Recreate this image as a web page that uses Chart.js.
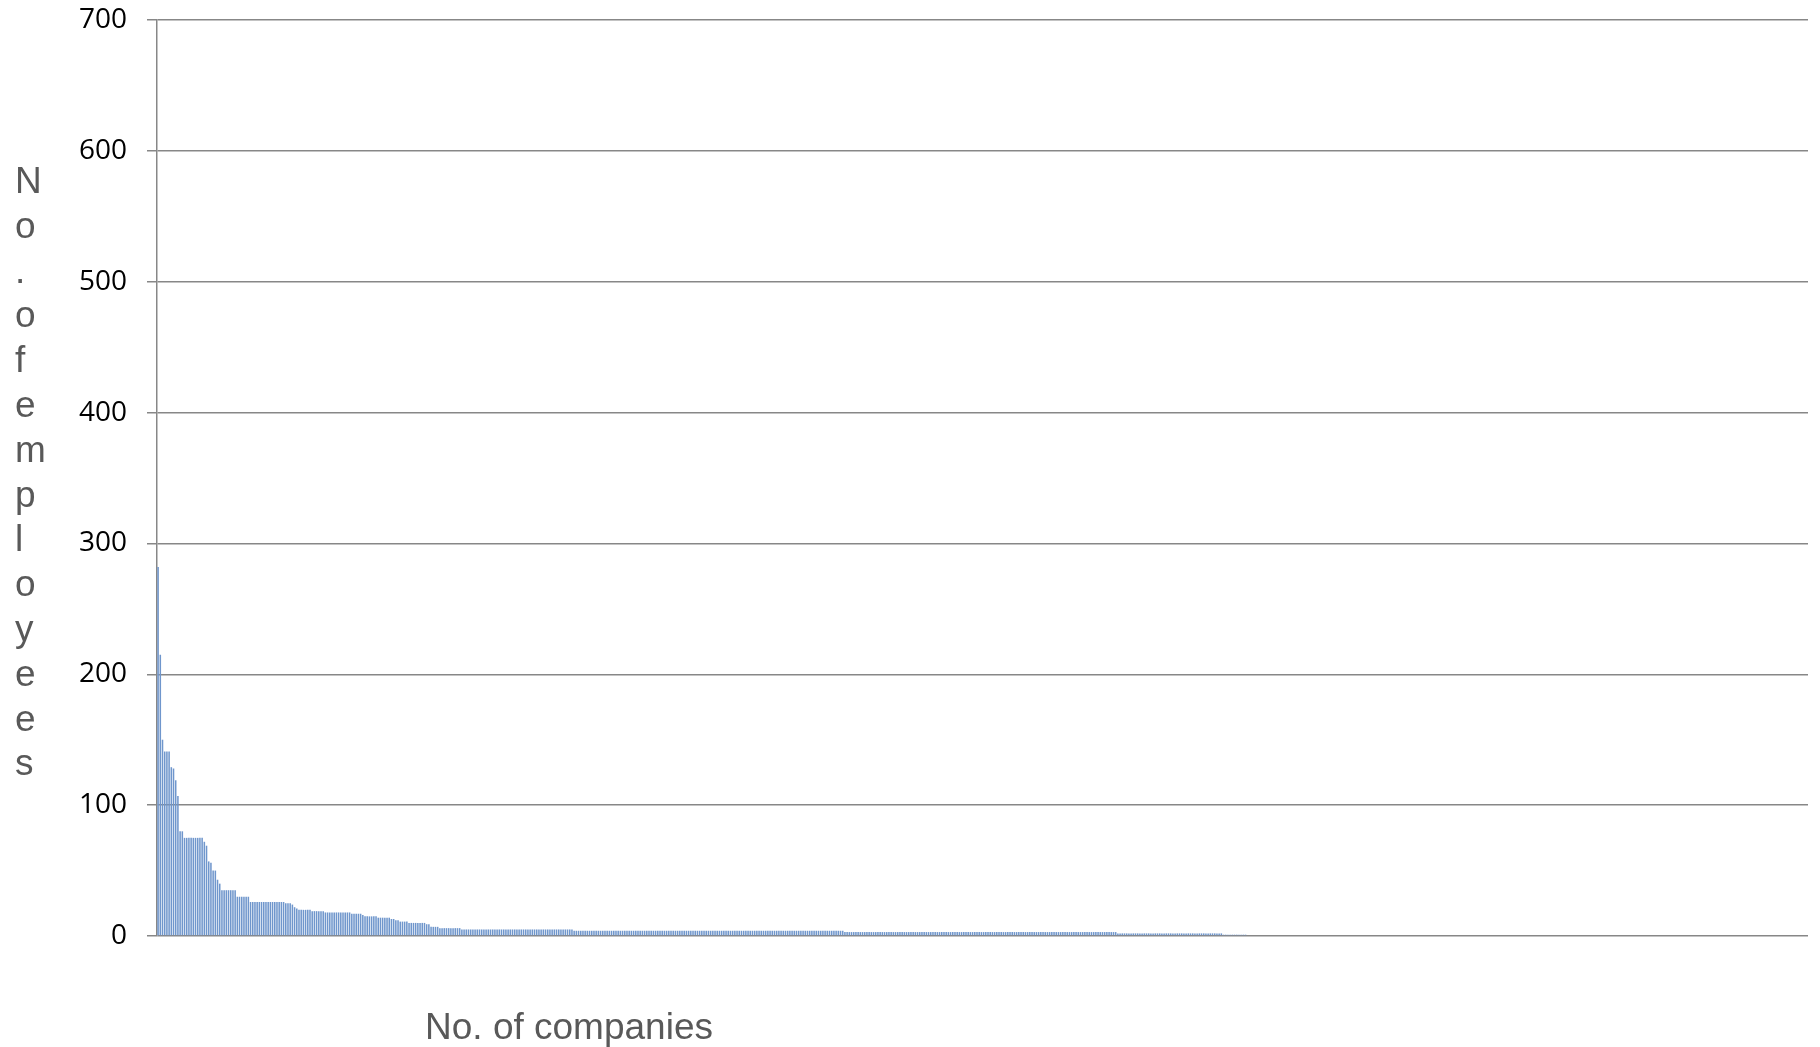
<!DOCTYPE html>
<html>
<head>
<meta charset="utf-8">
<script src="https://cdn.jsdelivr.net/npm/chart.js@4.4.1/dist/chart.umd.min.js"></script>
<style>
html,body{margin:0;padding:0;background:#fff;}
#wrap{width:1820px;height:1047px;}
</style>
</head>
<body>
<div id="wrap"><canvas id="c" width="1820" height="1047"></canvas></div>
<script>
// Number of employees per company, sorted descending
const employees = [
282,215,150,141,141,141,129,128,119,107,
80,80,
75,75,75,75,75,75,75,75,75,
72,69,57,56,50,50,43,40,
35,35,35,35,35,35,35,
30,30,30,30,30,30,
26,26,26,26,26,26,26,26,26,26,26,26,26,26,26,26,
25,25,25,24,22,21,
20,20,20,20,20,20,
19,19,19,19,19,19,
18,18,18,18,18,18,18,18,18,18,18,18,
17,17,17,17,17,16,
15,15,15,15,15,15,
14,14,14,14,14,14,
13,13,12,12,
11,11,11,11,
10,10,10,10,10,10,10,10,
9,9,7,7,7,7,
6,6,6,6,6,6,6,6,6,6,
5,5,5,5,5,5,5,5,5,5,
5,5,5,5,5,5,5,5,5,5,
5,5,5,5,5,5,5,5,5,5,
5,5,5,5,5,5,5,5,5,5,
5,5,5,5,5,5,5,5,5,5,
5,
4,4,4,4,4,4,4,4,4,4,
4,4,4,4,4,4,4,4,4,4,
4,4,4,4,4,4,4,4,4,4,
4,4,4,4,4,4,4,4,4,4,
4,4,4,4,4,4,4,4,4,4,
4,4,4,4,4,4,4,4,4,4,
4,4,4,4,4,4,4,4,4,4,
4,4,4,4,4,4,4,4,4,4,
4,4,4,4,4,4,4,4,4,4,
4,4,4,4,4,4,4,4,4,4,
4,4,4,4,4,4,4,4,4,4,
4,4,4,4,4,4,4,4,4,4,
4,4,4,
3,3,3,3,3,3,3,3,3,3,
3,3,3,3,3,3,3,3,3,3,
3,3,3,3,3,3,3,3,3,3,
3,3,3,3,3,3,3,3,3,3,
3,3,3,3,3,3,3,3,3,3,
3,3,3,3,3,3,3,3,3,3,
3,3,3,3,3,3,3,3,3,3,
3,3,3,3,3,3,3,3,3,3,
3,3,3,3,3,3,3,3,3,3,
3,3,3,3,3,3,3,3,3,3,
3,3,3,3,3,3,3,3,3,3,
3,3,3,3,3,3,3,3,3,3,
3,3,3,3,
2,2,2,2,2,2,2,2,2,2,
2,2,2,2,2,2,2,2,2,2,
2,2,2,2,2,2,2,2,2,2,
2,2,2,2,2,2,2,2,2,2,
2,2,2,2,2,2,2,2,
1,1,1,1,1,1,1,1,1,1,1
];
// Total number of company slots on the category axis (remaining slots are empty)
const companyCount = 750;
const companies = Array.from({length: companyCount}, (_, i) => String(i + 1));
const yTicks = [0, 100, 200, 300, 400, 500, 600, 700];
const yTitle = "No. of employees";
const xTitle = "No. of companies";

const titlePlugin = {
  id: 'customTitles',
  afterDraw(chart) {
    const ctx = chart.ctx;
    ctx.save();
    ctx.fillStyle = '#595959';
    ctx.font = '37px "Liberation Sans", Arial, sans-serif';
    ctx.textBaseline = 'alphabetic';
    ctx.textAlign = 'center';
    ctx.fillText(xTitle, 569, 1039);
    ctx.textAlign = 'left';
    const letters = yTitle.replace(/ /g, '').split('');
    letters.forEach((ch, i) => {
      ctx.fillText(ch, 15, 193 + i * 44.8);
    });
    ctx.restore();
  }
};

new Chart(document.getElementById('c'), {
  type: 'bar',
  data: {
    labels: companies,
    datasets: [{
      data: employees,
      backgroundColor: '#6f96cc',
      borderWidth: 0,
      barPercentage: 0.7,
      categoryPercentage: 1.0
    }]
  },
  options: {
    responsive: false,
    animation: false,
    layout: { padding: { left: 0, right: 12, top: 20, bottom: 0 } },
    plugins: { legend: { display: false }, tooltip: { enabled: false } },
    scales: {
      x: {
        type: 'category',
        ticks: { display: false },
        grid: { display: false, drawTicks: false },
        border: { display: false },
        afterFit(scale) { scale.height = 111; scale.paddingLeft = 0; scale.paddingRight = 0; }
      },
      y: {
        min: 0,
        max: 700,
        afterBuildTicks(scale) { scale.ticks = yTicks.map(v => ({ value: v })); },
        ticks: {
          color: '#000',
          font: { family: '"Open Sans", sans-serif', size: 28 },
          padding: 20
        },
        grid: { color: '#878787', lineWidth: 1.5, tickLength: 10, drawTicks: true },
        border: { display: true, color: '#878787', width: 1.5 },
        afterFit(scale) { scale.width = 157; scale.paddingTop = 0; scale.paddingBottom = 0; }
      }
    }
  },
  plugins: [titlePlugin]
});
</script>
</body>
</html>
